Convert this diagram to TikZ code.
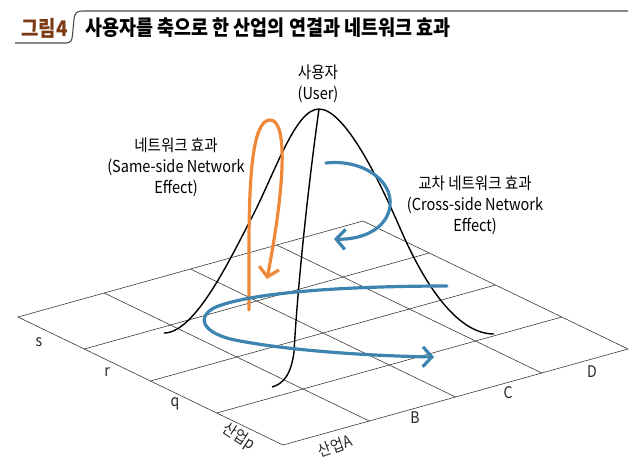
\documentclass[tikz,border=0pt]{standalone}
\usepackage{fontspec}
\setmainfont{Noto Sans CJK KR}[FakeStretch=0.88]
\usetikzlibrary{arrows.meta,calc}
\definecolor{myorange}{HTML}{F0883A}
\definecolor{myblue}{HTML}{3D84B0}
\definecolor{titlebrown}{HTML}{7B3A12}
\definecolor{gridgray}{HTML}{3A3A3A}
\tikzset{
  gridline/.style={draw=gridgray,line width=0.6pt},
  bell/.style={draw=black,line width=1.4pt},
  orangearrow/.style={draw=myorange,line width=3.2pt,line cap=round,-{Straight Barb[length=9pt,width=20pt]}},
  bluearrow/.style={draw=myblue,line width=3.2pt,line cap=round,-{Straight Barb[length=9pt,width=20pt]}},
  lbl/.style={font=\fontsize{16.5}{21}\selectfont,text=black,inner sep=0pt,align=center},
  axlbl/.style={font=\fontsize{16}{18}\selectfont,text=black!85,inner sep=0pt},
}
\begin{document}
\begin{tikzpicture}[x=1pt,y=-1pt]
\useasboundingbox (0,0) rectangle (640,467);
% title
\draw[draw=black!70,line width=1.1pt] (15,43) -- (66,43) .. controls (71,43) and (72,40) .. (72.5,35) -- (74,19) .. controls (74.5,13) and (77,11) .. (82,11) -- (628,11);
\node[anchor=west,inner sep=0pt,text=titlebrown,font=\fontsize{21.5}{23}\selectfont\bfseries] (fig) at (21,28) {그림4};
\node[anchor=west,inner sep=0pt,font=\fontsize{21}{23}\selectfont\bfseries] (title) at (85,28) {사용자를 축으로 한 산업의 연결과 네트워크 효과};
% grid
\coordinate (L) at (18,317);
\coordinate (F) at (283,445);
\coordinate (R) at (628,349);
\coordinate (B) at (363,221);
\foreach \i in {0,...,4}{
  \draw[gridline] ($(L)!\i/4!(F)$) -- ($(B)!\i/4!(R)$);
  \draw[gridline] ($(L)!\i/4!(B)$) -- ($(F)!\i/4!(R)$);
}
% axis labels
\node[axlbl] (ls) at (39,342) {s};
\node[axlbl] (lr) at (107,372) {r};
\node[axlbl] (lq) at (175,404) {q};
\node[axlbl,rotate=-33] (lp) at (239,437) {산업p};
\node[axlbl,rotate=20] (lA) at (335,446) {산업A};
\node[axlbl] (lB) at (415,418) {B};
\node[axlbl] (lC) at (508,393) {C};
\node[axlbl] (lD) at (592,372) {D};
% bell curves
\coordinate (peak) at (319,109);
\coordinate (lfoot) at (164,333);
\coordinate (rfoot) at (494,334);
\coordinate (nfoot) at (272,387);
\draw[bell] (lfoot) .. controls (195,333) and (230,259) .. (250,221)
  .. controls (275,173.5) and (295,109) .. (peak)
  .. controls (345,109) and (380,182) .. (400,228)
  .. controls (422,279) and (455,334) .. (rfoot);
\draw[bell] (peak) .. controls (309,180) and (298,280) .. (294,352) .. controls (291,375) and (283,384) .. (nfoot);
% orange arrow
\coordinate (o1) at (249,310);
\coordinate (otop) at (270,120);
\coordinate (otip) at (267,279);
\draw[orangearrow] (o1) -- (249,250) .. controls (249,180) and (252,120) .. (otop) .. controls (288,120) and (285,185) .. (otip);
% blue upper arrow
\coordinate (b1) at (326,163);
\coordinate (b1tip) at (334,239);
\draw[bluearrow] (b1) .. controls (362,159) and (393,180) .. (390,206) .. controls (387,230) and (360,240) .. (b1tip);
% blue lower arrow
\coordinate (b2) at (447,286);
\coordinate (b2tip) at (434,357);
\draw[bluearrow] (b2) .. controls (360,286) and (255,291) .. (216,307) .. controls (196,316) and (200,334) .. (240,341) .. controls (300,352) and (380,356) .. (b2tip);
% labels
\node[lbl] (user) at (318,84) {사용자\\(User)};
\node[lbl] (same) at (176,167) {네트워크 효과\\(Same-side Network\\Effect)};
\node[lbl] (cross) at (475,205) {교차 네트워크 효과\\(Cross-side Network\\Effect)};
\end{tikzpicture}
\end{document}
